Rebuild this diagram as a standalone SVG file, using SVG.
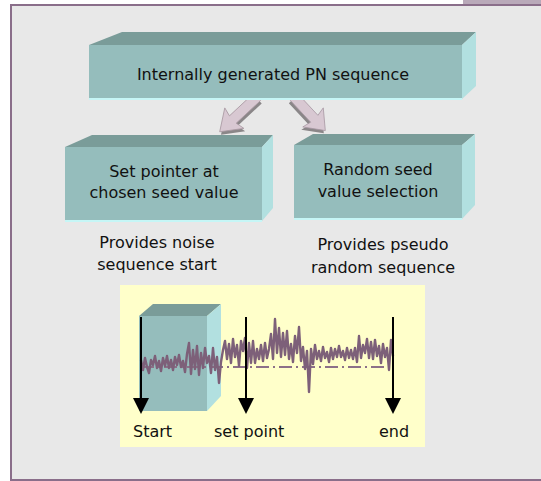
<svg xmlns="http://www.w3.org/2000/svg" width="541" height="481" viewBox="0 0 541 481">
<defs>
<style>
.front{fill:#95BDBC}
.top{fill:#7A9C99}
.side{fill:#B2E0E0}
.edge{stroke:#C6F6F6;stroke-width:2}
.lbl{font-family:"DejaVu Sans",Verdana,sans-serif;font-size:16px;fill:#111;text-anchor:middle}
.ax{stroke:#000;stroke-width:2}
.head{fill:#000}
.barr{fill:#D8C8D2;stroke:#A898A2;stroke-width:0.8}
.bsh{fill:#8A8688}
</style>
<path id="blk" d="M0,-5 L33,-5 L31,-14 L51,0 L31,14 L33,5 L0,5 Z"/>
</defs>
<rect width="541" height="481" fill="#FFFFFF"/>
<rect x="11" y="5" width="530" height="475" fill="#E8E8E8"/>
<rect x="463" y="0" width="78" height="4" fill="#B9A9B9"/>
<path d="M11,481 V5 H541" fill="none" stroke="#8A6E8A" stroke-width="2"/>
<line x1="10" y1="480" x2="541" y2="480" stroke="#8A6E8A" stroke-width="2"/>

<g id="connectors">
<g transform="translate(257,97) rotate(137)">
<use href="#blk" class="bsh" transform="translate(1,-3)"/>
<use href="#blk" class="barr"/>
</g>
<g transform="translate(294,97) rotate(47)">
<use href="#blk" class="bsh" transform="translate(1,3) scale(0.9,1)"/>
<use href="#blk" class="barr" transform="scale(0.9,1)"/>
</g>
</g>

<g id="node-pn">
<polygon class="top" points="89,45 122,32 476,32 462,45"/>
<polygon class="side" points="462,45 476,32 476,86 462,99"/>
<rect class="front" x="89" y="45" width="373" height="54"/>
<line class="edge" x1="89" y1="99" x2="462" y2="99"/>
<text class="lbl" x="273" y="80">Internally generated PN sequence</text>
</g>

<g id="node-pointer">
<polygon class="top" points="65,147 92,135 273,135 262,147"/>
<polygon class="side" points="262,147 273,135 273,208 262,221"/>
<rect class="front" x="65" y="147" width="197" height="74"/>
<line class="edge" x1="65" y1="221" x2="262" y2="221"/>
<text class="lbl" x="164" y="177">Set pointer at</text>
<text class="lbl" x="164" y="198">chosen seed value</text>
</g>

<g id="node-random">
<polygon class="top" points="294,145 313,134 475,134 462,145"/>
<polygon class="side" points="462,145 475,134 475,205 462,219"/>
<rect class="front" x="294" y="145" width="168" height="74"/>
<line class="edge" x1="294" y1="219" x2="462" y2="219"/>
<text class="lbl" x="378" y="175">Random seed</text>
<text class="lbl" x="378" y="197">value selection</text>
</g>

<g id="note-start">
<text class="lbl" x="157" y="248">Provides noise</text>
<text class="lbl" x="157" y="270">sequence start</text>
</g>
<g id="note-random">
<text class="lbl" x="383" y="250">Provides pseudo</text>
<text class="lbl" x="383" y="273">random sequence</text>
</g>

<g id="sequence-panel">
<rect x="120" y="285" width="305" height="162" fill="#FFFFCA"/>
<polygon class="top" points="139,316 153,304 221,304 207,316"/>
<polygon class="side" points="207,316 221,304 221,396 207,411"/>
<rect class="front" x="139" y="316" width="68" height="95"/>
<line x1="141" y1="367" x2="393" y2="367" stroke="#8C7088" stroke-width="1.8" stroke-dasharray="13 4 2 4"/>
<polyline fill="none" stroke="#7D6079" stroke-width="2.4" stroke-linejoin="round" points="141,360 143,370 145,358 147,367 149,373 151,360 153,365 155,356 157,368 159,361 161,371 163,358 165,366 167,356 169,368 171,360 173,370 175,357 177,365 179,355 181,367 183,361 185,372 187,354 189,343 191,374 193,350 195,369 197,346 199,375 201,353 203,368 205,348 207,363 209,356 211,373 213,348 215,370 217,357 219,383 221,362 223,350 225,341 227,359 229,344 231,363 233,339 235,357 237,345 239,366 241,341 243,351 245,338 247,368 249,343 251,363 253,341 255,363 257,349 259,359 261,345 263,361 265,343 267,358 269,349 271,334 273,359 275,319 277,353 279,328 281,357 283,333 285,355 287,331 289,359 291,344 293,362 295,336 297,353 299,327 301,361 303,347 305,369 307,351 309,392 311,349 313,364 315,345 317,359 319,351 321,361 323,347 325,358 327,352 329,362 331,348 333,359 335,349 337,357 339,346 341,357 343,351 345,360 347,348 349,358 351,350 353,359 355,348 357,362 359,336 361,358 363,345 365,353 367,339 369,358 371,342 373,359 375,340 377,356 379,346 381,363 383,344 385,357 387,348 389,370 391,340 393,356"/>
<line class="ax" x1="141" y1="317" x2="141" y2="400"/>
<polygon class="head" points="133,398 149,398 141,414"/>
<line class="ax" x1="246" y1="317" x2="246" y2="400"/>
<polygon class="head" points="238,398 254,398 246,414"/>
<line class="ax" x1="393" y1="317" x2="393" y2="400"/>
<polygon class="head" points="385,398 401,398 393,414"/>
<text class="lbl" x="133" y="437" style="text-anchor:start">Start</text>
<text class="lbl" x="214" y="437" style="text-anchor:start">set point</text>
<text class="lbl" x="379" y="437" style="text-anchor:start">end</text>
</g>
</svg>
